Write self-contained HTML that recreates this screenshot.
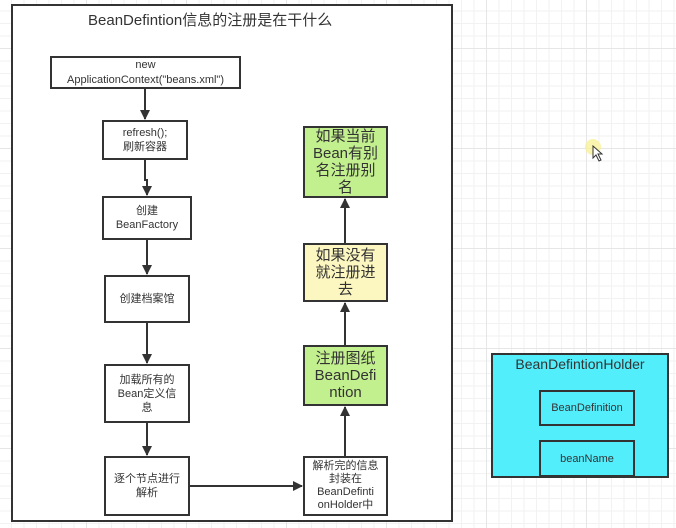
<!DOCTYPE html>
<html><head><meta charset="utf-8"><style>
html,body{margin:0;padding:0}
body{width:676px;height:528px;position:relative;overflow:hidden;background:#fff;
background-image:linear-gradient(#e6e6e6 1px,transparent 1px),linear-gradient(90deg,#e6e6e6 1px,transparent 1px),linear-gradient(#f2f2f2 1px,transparent 1px),linear-gradient(90deg,#f2f2f2 1px,transparent 1px);
background-size:100px 100px,100px 100px,12.5px 12.5px,12.5px 12.5px;background-position:0 48px,86px 0,0 48px,86px 0;
font-family:"Liberation Sans","Noto Sans CJK SC",sans-serif;color:#333}
.b{position:absolute;box-sizing:border-box;border:2px solid #333;background:#fff;display:flex;align-items:center;justify-content:center;text-align:center;font-size:11px;line-height:14px}
.big{font-size:15px;line-height:17px}
svg{position:absolute;left:0;top:0}
</style></head><body>
<div class="b" style="left:11px;top:4px;width:442px;height:518px;border-color:#333"></div>
<div style="position:absolute;left:88px;top:9px;font-size:15px;color:#333">BeanDefintion信息的注册是在干什么</div>
<div class="b" style="left:50px;top:56px;width:191px;height:33px;line-height:15px">new<br>ApplicationContext("beans.xml")</div>
<div class="b" style="left:102px;top:120px;width:86px;height:40px">refresh();<br>刷新容器</div>
<div class="b" style="left:102px;top:196px;width:90px;height:44px">创建<br>BeanFactory</div>
<div class="b" style="left:104px;top:275px;width:86px;height:48px">创建档案馆</div>
<div class="b" style="left:104px;top:364px;width:86px;height:59px">加载所有的<br>Bean定义信<br>息</div>
<div class="b" style="left:104px;top:456px;width:86px;height:60px">逐个节点进行<br>解析</div>
<div class="b" style="left:303px;top:456px;width:85px;height:60px;line-height:13px">解析完的信息<br>封装在<br>BeanDefinti<br>onHolder中</div>
<div class="b big" style="left:303px;top:345px;width:85px;height:61px;background:#c3f08e">注册图纸<br>BeanDefi<br>ntion</div>
<div class="b big" style="left:303px;top:243px;width:85px;height:59px;background:#fcf7c0">如果没有<br>就注册进<br>去</div>
<div class="b big" style="left:303px;top:126px;width:85px;height:72px;background:#c3f08e">如果当前<br>Bean有别<br>名注册别<br>名</div>
<div class="b" style="left:491px;top:353px;width:178px;height:125px;background:#52eefc;align-items:flex-start;font-size:14px;padding-top:2px">BeanDefintionHolder</div>
<div class="b" style="left:539px;top:390px;width:96px;height:36px;background:#52eefc">BeanDefinition</div>
<div class="b" style="left:539px;top:440px;width:96px;height:37px;background:#52eefc">beanName</div>
<svg width="676" height="528">
<defs><marker id="a" markerWidth="10" markerHeight="10" refX="9" refY="5" orient="auto" markerUnits="userSpaceOnUse"><path d="M0,0L10,5L0,10z" fill="#333"/></marker></defs>
<g stroke="#333" stroke-width="2" fill="none" marker-end="url(#a)">
<line x1="145" y1="89" x2="145" y2="119"/>
<path d="M145,160 V180 H147 V195"/>
<line x1="147" y1="240" x2="147" y2="274"/>
<line x1="147" y1="323" x2="147" y2="363"/>
<line x1="147" y1="423" x2="147" y2="455"/>
<line x1="190" y1="486" x2="302" y2="486"/>
<line x1="345" y1="456" x2="345" y2="407"/>
<line x1="345" y1="345" x2="345" y2="303"/>
<line x1="345" y1="243" x2="345" y2="199"/>
</g>
<circle cx="593" cy="147" r="8" fill="#f8f39a" opacity="0.8"/>
<path d="M593,146 L593,158 L596,155 L599,161 L601,160 L598,154 L602,154 Z" fill="#fff" stroke="#333" stroke-width="1"/>
</svg>
</body></html>
